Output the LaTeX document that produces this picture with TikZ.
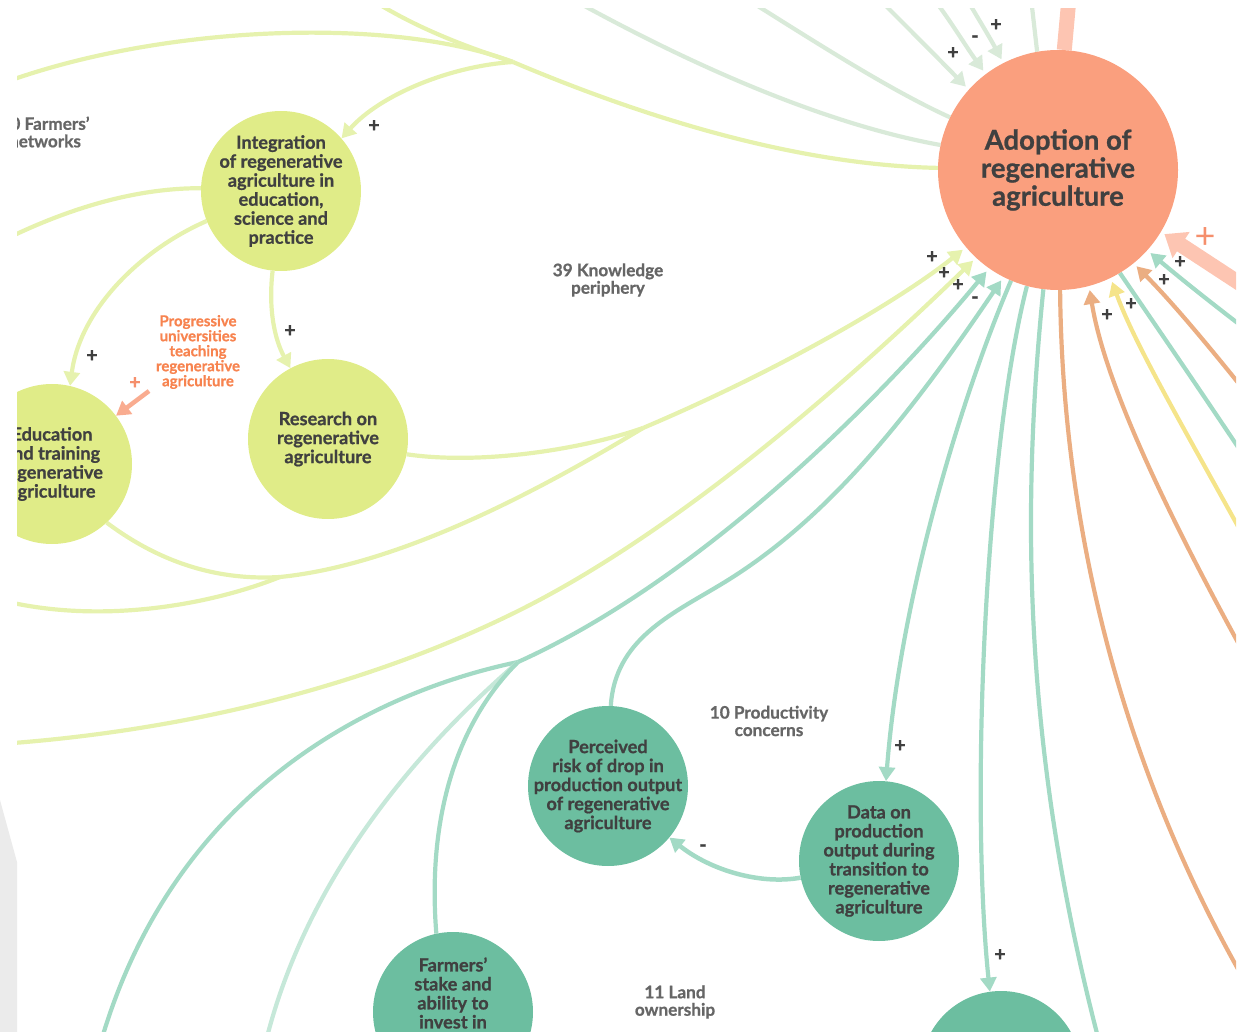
\documentclass[tikz,border=0pt]{standalone}
\usepackage{fontspec}
\setmainfont{Lato}[BoldFeatures={FakeBold=0.8}]
\usetikzlibrary{arrows.meta}
\pgfdeclarelayer{bg}
\pgfsetlayers{bg,main}
\definecolor{cAd}{HTML}{FA9F7E}
\definecolor{cYN}{HTML}{E0EC88}
\definecolor{cTN}{HTML}{6CBEA0}
\definecolor{cTxt}{HTML}{404040}
\definecolor{cLab}{HTML}{666666}
\definecolor{cOrTxt}{HTML}{F7834F}
\definecolor{cOrPlus}{HTML}{F58F6C}
\definecolor{cY}{HTML}{E6F2AE}
\definecolor{cT}{HTML}{A3DAC5}
\definecolor{cTL}{HTML}{C6E8D9}
\definecolor{cG}{HTML}{D9EAD9}
\definecolor{cS}{HTML}{FDC5B2}
\definecolor{cO}{HTML}{EBAE82}
\definecolor{cDY}{HTML}{F5E48A}
\definecolor{cPa}{HTML}{F9AC90}
\definecolor{cBand}{HTML}{EBEBEB}
\begin{document}
\begin{tikzpicture}[x=1pt,y=-1pt,
  cnode/.style={circle,inner sep=-30pt,minimum size=160pt,align=center,text=cTxt,font=\fontsize{18.2}{19}\selectfont\bfseries},
  ynode/.style={cnode,fill=cYN},
  tnode/.style={cnode,fill=cTN},
  bignode/.style={circle,inner sep=-30pt,minimum size=240pt,fill=cAd,align=center,text=cTxt,font=\fontsize{27.5}{28}\selectfont\bfseries},
  ntext/.style={align=center,text=cTxt,inner sep=0pt,font=\fontsize{18.2}{19}\selectfont\bfseries},
  grouplabel/.style={align=center,text=cLab,inner sep=0pt,font=\fontsize{17.2}{17.5}\selectfont\bfseries},
  orlabel/.style={align=center,text=cOrTxt,inner sep=0pt,font=\fontsize{15}{15}\selectfont\bfseries},
  sign/.style={text=cTxt,inner sep=0pt,font=\fontsize{20}{20}\selectfont\bfseries},
  conn/.style={line width=4.2pt},
  yl/.style={conn,draw=cY},
  tl/.style={conn,draw=cT},
  tll/.style={conn,draw=cTL},
  gl/.style={conn,draw=cG},
  ol/.style={conn,draw=cO},
  dyl/.style={conn,draw=cDY},
  pal/.style={line width=4.5pt,draw=cPa},
  sl/.style={line width=15pt,draw=cS},
  tip/.style={-{Triangle[length=14pt,width=16pt]}},
  bigtip/.style={-{Triangle[length=20pt,width=30pt]}},
  gap/.style={shorten >=4pt},
]
\useasboundingbox (0,0) rectangle (1243,1032);
\fill[cBand] (0,800) -- (17,862) -- (17,1032) -- (0,1032) -- cycle;

\begin{scope}
\clip (17,9) rectangle (1236,1032);
% nodes
\node[bignode] (adopt) at (1058,170) {Adoption of\\regenerative\\agriculture};
\node[ynode] (integ) at (281,191) {Integration\\of regenerative\\agriculture in\\education,\\science and\\practice};
\node[ynode] (educ) at (52,464) {Education\\and training\\regenerative\\agriculture};
\node[ynode] (research) at (328,439) {Research on\\regenerative\\agriculture};
\node[tnode] (perc) at (608,786) {Perceived\\risk of drop in\\production output\\of regenerative\\agriculture};
\node[tnode] (data) at (879,861) {Data on\\production\\output during\\transition to\\regenerative\\agriculture};
\node[tnode] (farm) at (453,1012) {};
\node[ntext] (farmtxt) at (453,993) {Farmers'\\stake and\\ability to\\invest in};
\node[tnode] (bnode) at (1001,1071) {};
% group labels
\node[grouplabel] (knw) at (608,280) {39 Knowledge\\periphery};
\node[grouplabel] (prod) at (769,721) {10 Productivity\\concerns};
\node[grouplabel] (land) at (675,1002) {11 Land\\ownership};
\node[grouplabel] (netw) at (45,132) {30 Farmers'\\networks};
\node[orlabel] (prog) at (198,352) {Progressive\\universities\\teaching\\regenerative\\agriculture};
% signs
\node[sign] (s1) at (996,25) {+};
\node[sign] (s2) at (975,39) {-};
\node[sign] (s3) at (953,53) {+};
\node[sign] (s4) at (374,126) {+};
\node[sign] (s5) at (92,356) {+};
\node[sign] (s6) at (290,331) {+};
\node[sign,text=cOrPlus] (s7) at (135,383) {+};
\node[sign] (s8) at (932,257) {+};
\node[sign] (s9) at (944,273) {+};
\node[sign] (s10) at (958,285) {+};
\node[sign] (s11) at (975,300) {-};
\node[sign,text=cOrPlus,font=\fontsize{36}{36}\selectfont] (s12) at (1205,238) {+};
\node[sign] (s13) at (1180,262) {+};
\node[sign] (s14) at (1164,280) {+};
\node[sign] (s15) at (1131,304) {+};
\node[sign] (s16) at (1107,315) {+};
\node[sign] (s17) at (900,746) {+};
\node[sign] (s18) at (703,848) {-};
\node[sign] (s19) at (1000,955) {+};
\end{scope}

\begin{pgfonlayer}{bg}
\begin{scope}
\clip (17,9) rectangle (1236,1032);
% merge points and free ends
\coordinate (m1) at (513,62);
\coordinate (m2) at (643,428);
\coordinate (m3) at (518,662);
\coordinate (m4) at (280,577);
\coordinate (y1s) at (-10,88);
\coordinate (y2s) at (372,0);
\coordinate (g1s) at (570,-2);
\coordinate (g2s) at (745,-2);
\coordinate (g3s) at (878,-2);
\coordinate (g4s) at (933,-2);
\coordinate (g5s) at (966,-2);
\coordinate (g6s) at (1031,-2);
\coordinate (s1s) at (1069,-2);
\coordinate (sas) at (1262,298);
\coordinate (r1) at (1252,334);
\coordinate (r2) at (1252,400);
\coordinate (r3) at (1252,468);
\coordinate (r4) at (1250,548);
\coordinate (r5) at (1252,668);
\coordinate (r6) at (1250,990);
\coordinate (r7) at (1100,1045);
\coordinate (b1) at (100,1045);
\coordinate (b2) at (265,1045);
\coordinate (ls) at (0,600);
\coordinate (ls2) at (0,744);
\coordinate (il) at (0,242);
\coordinate (pt) at (149,391);
% top yellow
\draw[yl] (y1s) .. controls (150,25) and (390,15) .. (m1);
\draw[yl] (y2s) .. controls (420,30) and (470,48) .. (m1);
\draw[yl,tip] (m1) .. controls (450,66) and (380,95) .. (integ.41);
\draw[yl] (m1) .. controls (650,120) and (800,165) .. (adopt.179);
% top grey-green
\draw[gl] (g1s) .. controls (700,70) and (830,125) .. (adopt.168);
\draw[gl] (g2s) .. controls (820,45) and (890,90) .. (adopt.154);
\draw[gl,tip,gap] (g3s) .. controls (905,25) and (935,55) .. (adopt.138);
\draw[gl,tip,gap] (g4s) .. controls (950,20) and (965,45) .. (adopt.127);
\draw[gl,tip,gap] (g5s) .. controls (978,18) and (990,38) .. (adopt.117);
\draw[gl] (g6s) -- (adopt.100);
\draw[sl] (s1s) -- (adopt.87);
% right side
\draw[sl,bigtip,gap] (sas) -- (adopt.-31);
\draw[tl,tip,gap] (r1) .. controls (1215,306) and (1180,278) .. (adopt.-42);
\draw[ol,tip,gap] (r2) .. controls (1200,335) and (1168,298) .. (adopt.-51);
\draw[tl] (r3) .. controls (1190,375) and (1145,310) .. (adopt.-59);
\draw[dyl,tip,gap] (r4) .. controls (1185,430) and (1135,345) .. (adopt.-64);
\draw[ol,tip,gap] (r5) .. controls (1170,520) and (1105,385) .. (adopt.-75);
\draw[ol] (adopt.-89) .. controls (1062,500) and (1110,750) .. (r6);
\draw[tl] (adopt.-97) .. controls (1020,520) and (1025,760) .. (r7);
\draw[tl,tip] (adopt.-105) .. controls (985,450) and (970,800) .. (bnode.98);
\draw[tl,tip] (adopt.-113) .. controls (960,400) and (900,600) .. (data.85);
% bottom-left teal
\draw[tl,tip,gap] (perc.88) .. controls (615,640) and (670,615) .. (720,585) .. controls (820,525) and (900,430) .. (adopt.-117);
\draw[tl,tip,gap] (m3) .. controls (700,580) and (880,400) .. (adopt.-125);
\draw[tl] (b1) .. controls (170,800) and (360,695) .. (m3);
\draw[tll] (b2) .. controls (310,860) and (440,730) .. (m3);
\draw[tl] (farm.102) .. controls (428,830) and (450,730) .. (m3);
\draw[tl,tip,line width=4.5pt] (data.-168) .. controls (760,885) and (710,870) .. (perc.-40);
% lower yellow
\draw[yl] (research.-11) .. controls (480,465) and (580,450) .. (m2);
\draw[yl] (educ.-47.5) .. controls (170,570) and (230,580) .. (m4);
\draw[yl] (ls) .. controls (100,625) and (210,605) .. (m4);
\draw[yl] (m4) .. controls (400,565) and (540,490) .. (m2);
\draw[yl,tip,gap] (m2) .. controls (780,370) and (900,300) .. (adopt.-140);
\draw[yl,tip,gap] (ls2) .. controls (200,730) and (380,680) .. (520,610) .. controls (680,530) and (850,380) .. (adopt.-133);
% integration links
\draw[yl] (il) .. controls (60,212) and (130,188) .. (integ.178);
\draw[yl,tip] (integ.-158) .. controls (140,250) and (80,310) .. (educ.77);
\draw[yl,tip] (integ.-96.5) .. controls (268,310) and (275,340) .. (research.118);
\draw[pal,tip] (pt) -- (educ.37);
\end{scope}
\end{pgfonlayer}
\end{tikzpicture}
\end{document}
